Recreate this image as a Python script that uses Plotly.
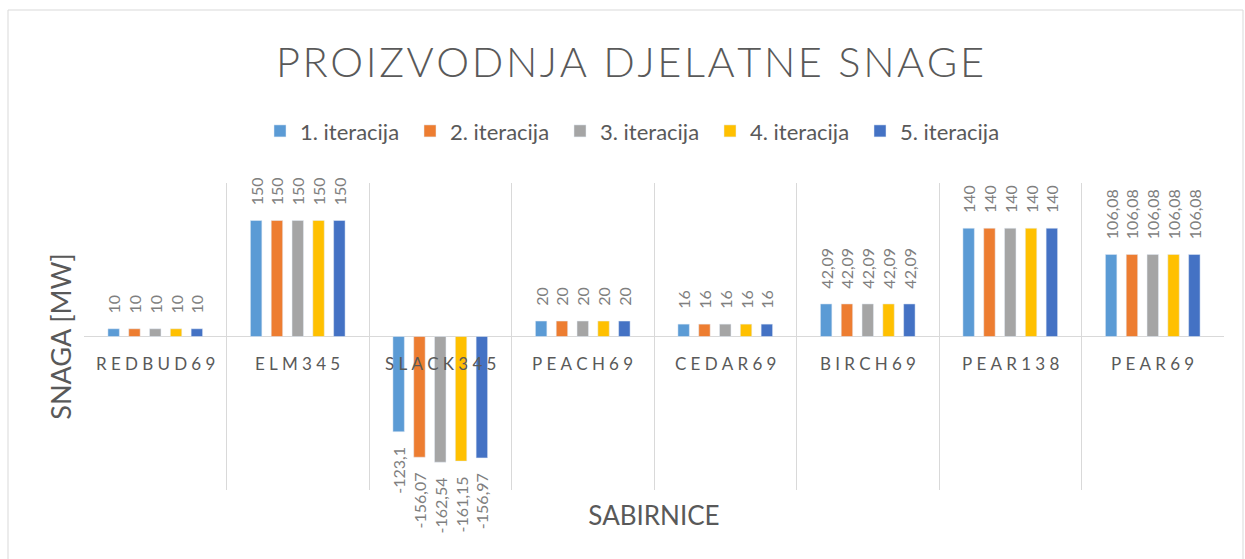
import plotly.graph_objects as go

categories = ["REDBUD69", "ELM345", "SLACK345", "PEACH69", "CEDAR69", "BIRCH69", "PEAR138", "PEAR69"]
series_names = ["1. iteracija", "2. iteracija", "3. iteracija", "4. iteracija", "5. iteracija"]
iter1 = [10, 150, -123.1, 20, 16, 42.09, 140, 106.08]
iter2 = [10, 150, -156.07, 20, 16, 42.09, 140, 106.08]
iter3 = [10, 150, -162.54, 20, 16, 42.09, 140, 106.08]
iter4 = [10, 150, -161.15, 20, 16, 42.09, 140, 106.08]
iter5 = [10, 150, -156.97, 20, 16, 42.09, 140, 106.08]
series_values = [iter1, iter2, iter3, iter4, iter5]
colors = ["#5B9BD5", "#ED7D31", "#A5A5A5", "#FFC000", "#4472C4"]

FONT = "Lato, 'Open Sans', sans-serif"
GREY = "#595959"
LABEL_GREY = "#7F7F7F"
PAD = "\u00a0\u00a0\u00a0"


def fmt(v):
    s = f"{v:g}".replace(".", ",")
    return PAD + s if v >= 0 else s + PAD


def spaced(s, sp="\u2005"):
    return sp.join(list(s))


fig = go.Figure()
for name, vals, col in zip(series_names, series_values, colors):
    fig.add_trace(go.Bar(
        name=name, x=categories, y=vals, marker_color=col,
        text=[fmt(v) for v in vals], textposition="outside", textangle=-90,
        constraintext="none", cliponaxis=False,
        textfont=dict(family=FONT, size=16, color=LABEL_GREY),
    ))

for c in categories:
    fig.add_annotation(x=c, y=0, xref="x", yref="y", yshift=-27, showarrow=False,
                       text=spaced(c), font=dict(family=FONT, size=17, color=GREY))

fig.update_layout(
    width=1245, height=559,
    margin=dict(l=84, r=21, t=183, b=69),
    paper_bgcolor="white", plot_bgcolor="white",
    barmode="group", bargap=0.27, bargroupgap=0.45,
    font=dict(family=FONT, color=GREY),
    title=dict(text=spaced("PROIZVODNJA DJELATNE SNAGE", "\u200a"), x=630 / 1245, xanchor="center",
               y=1 - 62 / 559, yanchor="middle", xref="container", yref="container",
               font=dict(family=FONT, size=41.5, color=GREY, weight=300)),
    legend=dict(orientation="h", x=(635 - 84) / 1140, xanchor="center", y=1.169, yanchor="middle",
                font=dict(family=FONT, size=22, color=GREY), traceorder="normal",
                entrywidth=105, entrywidthmode="pixels"),
    showlegend=True,
)
fig.update_xaxes(showticklabels=False, tickson="boundaries", showgrid=True, gridcolor="#D9D9D9",
                 gridwidth=1, showline=False, ticks="", zeroline=False,
                 title=dict(text="SABIRNICE", font=dict(family=FONT, size=26, color=GREY), standoff=16))
fig.update_yaxes(range=[-198.5, 198.5], showticklabels=False, showgrid=False, zeroline=True,
                 zerolinecolor="#D9D9D9", zerolinewidth=1, showline=False, ticks="",
                 title=dict(text="SNAGA [MW]", font=dict(family=FONT, size=27, color=GREY), standoff=3))
fig.add_shape(type="rect", xref="paper", yref="paper",
              x0=(8 - 84) / 1140, x1=(1243 - 84) / 1140, y0=(490 - 580) / 307, y1=(490 - 10) / 307,
              line=dict(color="#D9D9D9", width=1), fillcolor="rgba(0,0,0,0)", layer="below")

fig.write_html("out.html", config={"displayModeBar": False},
               post_script="document.body.style.margin='0px';")
